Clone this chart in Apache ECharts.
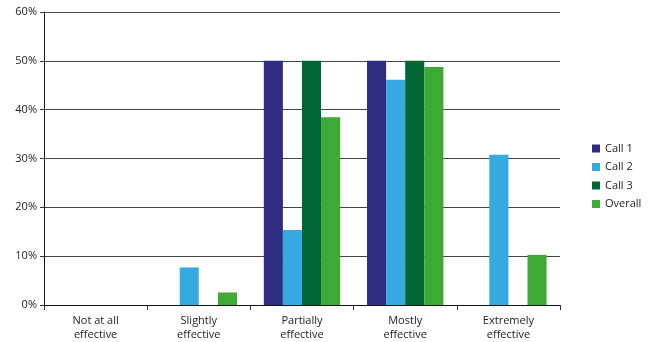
<!DOCTYPE html>
<html><head><meta charset="utf-8">
<script src="https://cdn.jsdelivr.net/npm/echarts@6/dist/echarts.min.js"></script>
<style>html,body{margin:0;padding:0;background:#fff}#c{width:652px;height:342px}</style>
</head><body><div id="c"></div>
<script>
var categories = ['Not at all\neffective','Slightly\neffective','Partially\neffective','Mostly\neffective','Extremely\neffective'];
var call1 = [0, 0, 50, 50, 0];
var call2 = [0, 7.69, 15.38, 46.15, 30.77];
var call3 = [0, 0, 50, 50, 0];
var overall = [0, 2.56, 38.46, 48.72, 10.26];
var seriesNames = ['Call 1','Call 2','Call 3','Overall'];
var colors = ['#2E2D82','#36A9E1','#006633','#3DAA35'];
var yTicks = [0,10,20,30,40,50,60];

var font = '"Open Sans", "Noto Sans", sans-serif';
var chart = echarts.init(document.getElementById('c'));
var data = [call1, call2, call3, overall];
chart.setOption({
  animation: false,
  textStyle: {fontFamily: font},
  grid: {left: 44, right: 92, top: 12, bottom: 37, containLabel: false},
  legend: {
    orient: 'vertical', left: 587, top: 138,
    itemWidth: 8, itemHeight: 8, itemGap: 7.5,
    icon: 'rect',
    textStyle: {fontFamily: font, fontSize: 11, color: '#222'},
    data: seriesNames
  },
  xAxis: {
    type: 'category', data: categories,
    axisLine: {lineStyle: {color: '#111', width: 1}},
    axisTick: {show: true, length: 5, lineStyle: {color: '#333'}},
    axisLabel: {fontFamily: font, fontSize: 11, color: '#222', lineHeight: 14, margin: 9}
  },
  yAxis: {
    type: 'value', min: yTicks[0], max: yTicks[yTicks.length-1], interval: 10,
    axisLine: {show: true, lineStyle: {color: '#111', width: 1}},
    axisTick: {show: true, length: 4, lineStyle: {color: '#333'}},
    axisLabel: {fontFamily: font, fontSize: 11, color: '#222', margin: 7, formatter: '{value}%'},
    splitLine: {lineStyle: {color: '#444', width: 1}}
  },
  series: seriesNames.map(function(n, i){
    return {
      name: n, type: 'bar', data: data[i],
      barGap: '0%', barCategoryGap: '26%',
      itemStyle: {color: colors[i]}
    };
  })
});
</script></body></html>
